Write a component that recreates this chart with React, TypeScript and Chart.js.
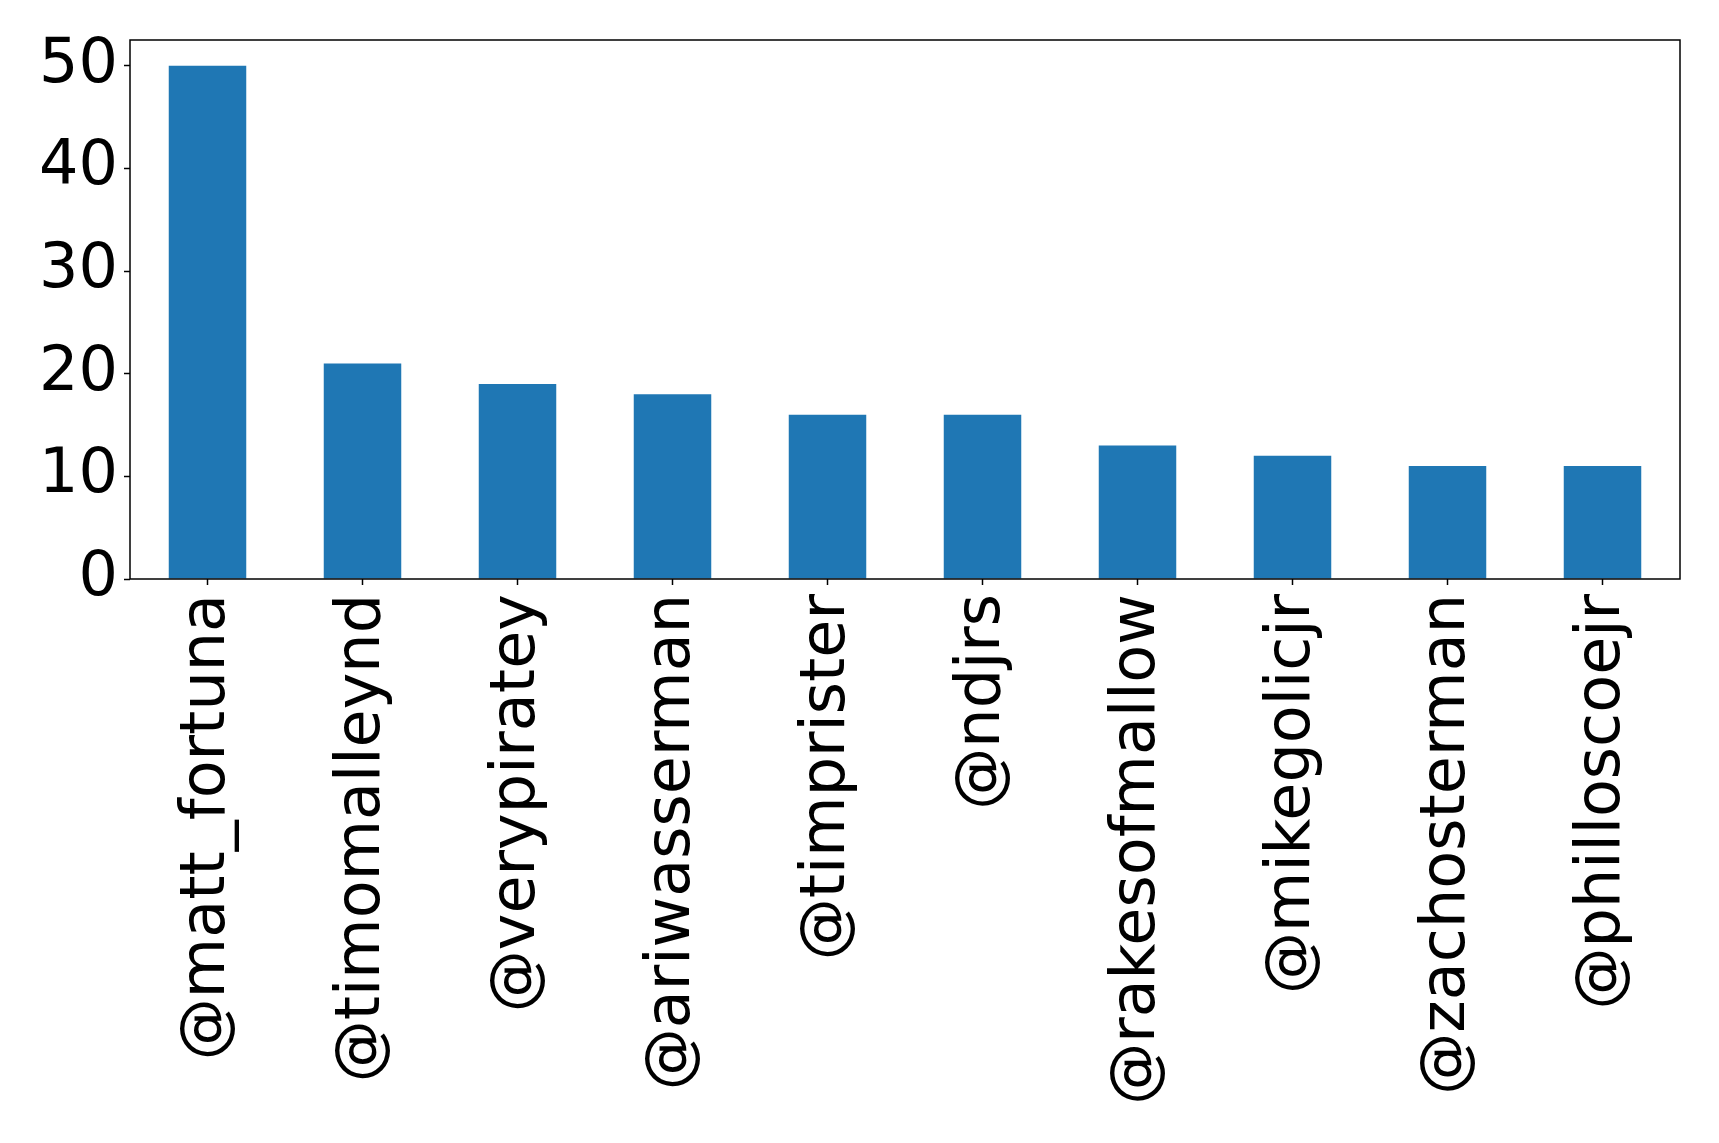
import React, { useEffect, useRef } from "react";
import { Chart, registerables } from "chart.js";

Chart.register(...registerables);

const handles = [
  "@matt_fortuna",
  "@timomalleynd",
  "@verypiratey",
  "@ariwasserman",
  "@timprister",
  "@ndjrs",
  "@rakesofmallow",
  "@mikegolicjr",
  "@zachosterman",
  "@philloscoejr",
];
const counts = [50, 21, 19, 18, 16, 16, 13, 12, 11, 11];
const yTicks = [0, 10, 20, 30, 40, 50];

const FONT = "'DejaVu Sans', sans-serif";

// Draws the full rectangular frame around the plotting area.
const frame = {
  id: "frame",
  afterDatasetsDraw(chart: any) {
    const { ctx, chartArea } = chart;
    ctx.save();
    ctx.strokeStyle = "#000";
    ctx.lineWidth = 1.5;
    ctx.strokeRect(
      chartArea.left,
      chartArea.top,
      chartArea.right - chartArea.left,
      chartArea.bottom - chartArea.top
    );
    ctx.restore();
  },
};

export default function App() {
  const ref = useRef<HTMLCanvasElement | null>(null);

  useEffect(() => {
    document.body.style.margin = "0";
    const chart = new Chart(ref.current!, {
      type: "bar",
      data: {
        labels: handles,
        datasets: [
          {
            data: counts,
            backgroundColor: "#1f77b4",
            borderWidth: 0,
            barPercentage: 0.5,
            categoryPercentage: 1,
          },
        ],
      },
      plugins: [frame],
      options: {
        animation: false,
        responsive: true,
        maintainAspectRatio: false,
        layout: { padding: { top: 40, right: 39, left: 0, bottom: 0 } },
        plugins: { legend: { display: false }, tooltip: { enabled: false } },
        scales: {
          x: {
            offset: true,
            grid: {
              offset: false,
              drawOnChartArea: false,
              tickLength: 6,
              tickColor: "#000",
              tickWidth: 1.5,
            },
            border: { display: false },
            ticks: {
              autoSkip: false,
              minRotation: 90,
              maxRotation: 90,
              padding: 9,
              color: "#000",
              font: { family: FONT, size: 62 },
            },
            afterFit(scale: any) {
              scale.height = 564;
              scale.paddingLeft = 0;
              scale.paddingRight = 0;
            },
          },
          y: {
            min: 0,
            max: 52.5,
            grid: {
              drawOnChartArea: false,
              tickLength: 6,
              tickColor: "#000",
              tickWidth: 1.5,
            },
            border: { display: false },
            ticks: {
              stepSize: 10,
              padding: 6,
              color: "#000",
              font: { family: FONT, size: 62 },
            },
            afterBuildTicks(scale: any) {
              scale.ticks = yTicks.map((v) => ({ value: v }));
            },
            afterFit(scale: any) {
              scale.width = 130;
              scale.paddingTop = 0;
              scale.paddingBottom = 0;
            },
          },
        },
      },
    });
    return () => chart.destroy();
  }, []);

  return (
    <div style={{ position: "absolute", left: 0, top: 0, width: 1719, height: 1143, background: "#fff" }}>
      <canvas ref={ref} />
    </div>
  );
}
